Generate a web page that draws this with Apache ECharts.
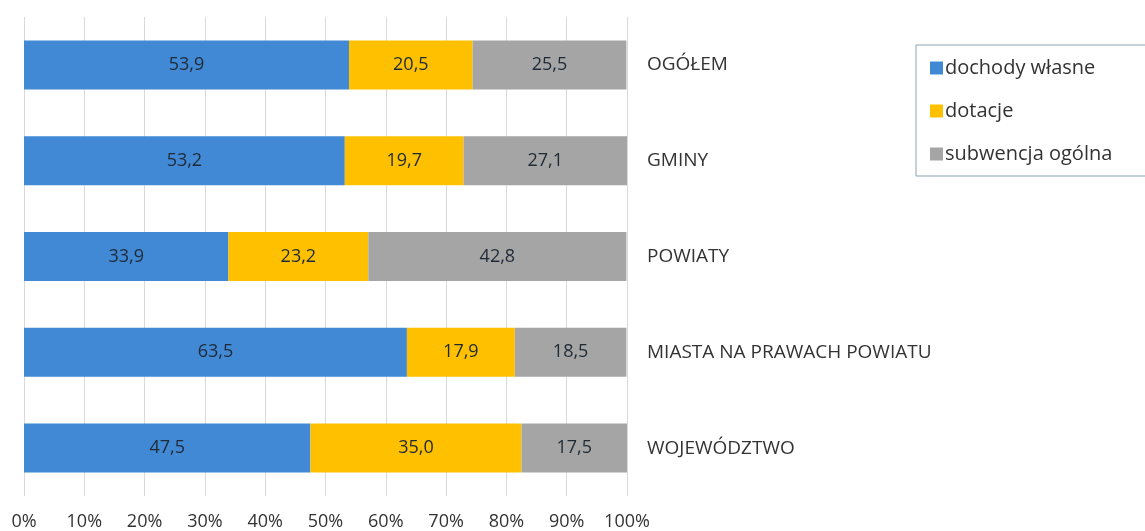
<!DOCTYPE html>
<html>
<head>
<meta charset="utf-8">
<script src="https://cdn.jsdelivr.net/npm/echarts@6/dist/echarts.min.js"></script>
<style>
  html, body { margin: 0; padding: 0; background: #fff; }
  #chart { width: 1145px; height: 531px; }
</style>
</head>
<body>
<div id="chart"></div>
<script>
const categories = ["OGÓŁEM", "GMINY", "POWIATY", "MIASTA NA PRAWACH POWIATU", "WOJEWÓDZTWO"];
const dochodyWlasne = [53.9, 53.2, 33.9, 63.5, 47.5];
const dotacje = [20.5, 19.7, 23.2, 17.9, 35.0];
const subwencja = [25.5, 27.1, 42.8, 18.5, 17.5];
const seriesNames = ["dochody własne", "dotacje", "subwencja ogólna"];
const colors = ["#4189D4", "#FFC000", "#A5A5A5"];

const font = "'Open Sans', 'DejaVu Sans', sans-serif";

function makeSeries(name, data, color) {
  return {
    name: name,
    type: "bar",
    stack: "total",
    data: data,
    barWidth: 49,
    itemStyle: { color: color },
    label: {
      show: true,
      position: "inside",
      color: "#1F2A36",
      fontFamily: font,
      fontSize: 18,
      formatter: (p) => p.value.toFixed(1).replace(".", ","),
    },
  };
}

const chart = echarts.init(document.getElementById("chart"));
chart.setOption({
  animation: false,
  textStyle: { fontFamily: font },
  legend: {
    orient: "vertical",
    left: 916,
    top: 45,
    data: seriesNames,
    icon: "rect",
    itemWidth: 13,
    itemHeight: 13,
    itemGap: 19,
    padding: [11, 60, 10, 14],
    borderColor: "#8AA3B2",
    borderWidth: 1,
    textStyle: { color: "#333333", fontSize: 20, lineHeight: 24, fontFamily: font, padding: [0, 0, 0, -3] },
  },
  grid: {
    left: 24,
    right: 518,
    top: 17,
    bottom: 35,
  },
  xAxis: {
    type: "value",
    min: 0,
    max: 100,
    interval: 10,
    axisLine: { show: false },
    axisTick: { show: false },
    splitLine: { show: true, lineStyle: { color: "#D9D9D9" } },
    axisLabel: {
      formatter: "{value}%",
      color: "#333333",
      fontSize: 18,
      margin: 17,
    },
  },
  yAxis: {
    type: "category",
    data: categories,
    inverse: true,
    position: "right",
    axisLine: { show: false },
    axisTick: { show: false },
    axisLabel: {
      color: "#333333",
      fontSize: 19,
      margin: 20,
      align: "left",
    },
  },
  series: [
    makeSeries(seriesNames[0], dochodyWlasne, colors[0]),
    makeSeries(seriesNames[1], dotacje, colors[1]),
    makeSeries(seriesNames[2], subwencja, colors[2]),
  ],
});
</script>
</body>
</html>
